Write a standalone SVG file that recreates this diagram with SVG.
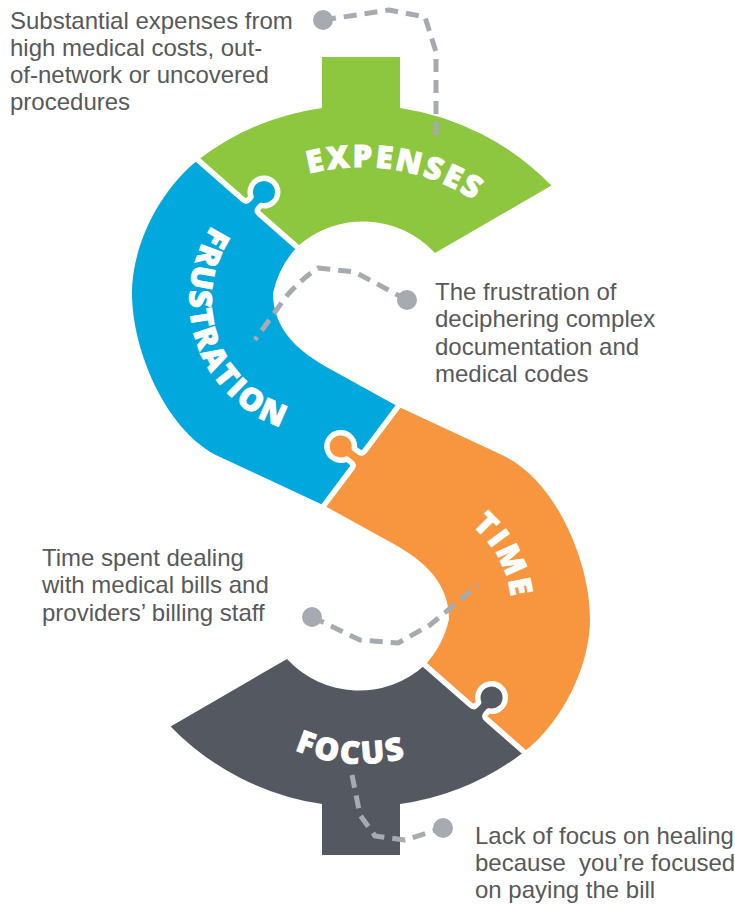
<svg xmlns="http://www.w3.org/2000/svg" width="735" height="906" viewBox="0 0 735 906">
<defs>
<style>
.body{font-family:"Liberation Sans",Arial,sans-serif;font-size:24px;fill:#58595b}
.lbl{font-family:"Open Sans","Lato",sans-serif;font-weight:800;font-size:31px;fill:#ffffff;stroke:#ffffff;stroke-width:0.9;letter-spacing:2.5px}
.sep{fill:none;stroke:#ffffff;stroke-width:5.5;stroke-linejoin:round;stroke-linecap:butt}
.dash{fill:none;stroke:#a7abb1;stroke-width:5;stroke-dasharray:13 8;stroke-linejoin:round}
.dot{fill:#a7abb1}
</style>
<path id="shapeTop" d="M198,160 A265,265 0 0 1 322,107.9 L322,57 L400,57 L400,107.9 A265,265 0 0 1 551.4,185.6 L435,253 A98,98 0 0 0 297,247 Z"/>
<path id="shapeSide" d="M198,160 C160,190 132,245 132,293 C132,350 166,432 220,457 L324,505.5 L398,406.5 L330,369 C299,352 273,330 273,293 A98,98 0 0 1 297,247 Z"/>
<path id="pE" d="M180,272.6 A208,208 0 0 1 565.5,337.1"/>
<path id="pF" d="M276.6,174.6 A134,134 0 0 0 365.4,427.4"/>
<path id="pT" d="M348.5,513.2 A111,111 0 0 1 453.5,708.8"/>
<path id="pC" d="M193.4,589.2 A168,168 0 0 0 528.6,610.8"/>
</defs>
<rect width="735" height="906" fill="#ffffff"/>

<g id="expenses">
<use href="#shapeTop" fill="#8dc63f"/>
</g>
<g id="frustration">
<use href="#shapeSide" fill="#00a8de"/>
</g>
<g id="time">
<use href="#shapeSide" fill="#f7963e" transform="rotate(180 361 456)"/>
</g>
<g id="focus">
<use href="#shapeTop" fill="#545861" transform="rotate(180 361 456)"/>
</g>

<g id="joints">
<g transform="translate(251.1,206.7) rotate(41.3)">
<path d="M-10.5,3 L-10.5,0 Q-6.5,0 -6.5,-4 L-6.5,-7.38 A13.75,13.75 0 1 1 6.5,-7.38 L6.5,-4 Q6.5,0 10.5,0 L10.5,3 Z" fill="#00a8de"/>
<path class="sep" d="M-74,0 L-10.5,0 Q-6.5,0 -6.5,-4 L-6.5,-7.38 A13.75,13.75 0 1 1 6.5,-7.38 L6.5,-4 Q6.5,0 10.5,0 L64,0"/>
</g>
<g transform="translate(358.3,459.6) rotate(-53.2)">
<path d="M-10.5,3 L-10.5,0 Q-6.5,0 -6.5,-4 L-6.5,-9.88 A13.75,13.75 0 1 1 6.5,-9.88 L6.5,-4 Q6.5,0 10.5,0 L10.5,3 Z" fill="#f7963e"/>
<path class="sep" d="M-60,0 L-10.5,0 Q-6.5,0 -6.5,-4 L-6.5,-9.88 A13.75,13.75 0 1 1 6.5,-9.88 L6.5,-4 Q6.5,0 10.5,0 L69,0"/>
</g>
<g transform="translate(478.7,712.2) rotate(41.3)">
<path d="M-10.5,3 L-10.5,0 Q-6.5,0 -6.5,-4 L-6.5,-7.38 A13.75,13.75 0 1 1 6.5,-7.38 L6.5,-4 Q6.5,0 10.5,0 L10.5,3 Z" fill="#545861"/>
<path class="sep" d="M-74,0 L-10.5,0 Q-6.5,0 -6.5,-4 L-6.5,-7.38 A13.75,13.75 0 1 1 6.5,-7.38 L6.5,-4 Q6.5,0 10.5,0 L63,0"/>
</g>
</g>

<g id="labels">
<text class="lbl" text-anchor="middle"><textPath href="#pE" startOffset="50%">EXPENSES</textPath></text>
<text class="lbl" text-anchor="middle"><textPath href="#pF" startOffset="50%">FRUSTRATION</textPath></text>
<text class="lbl" text-anchor="middle"><textPath href="#pT" startOffset="50%">TIME</textPath></text>
<text class="lbl" text-anchor="middle"><textPath href="#pC" startOffset="50%">FOCUS</textPath></text>
</g>

<g id="connectors">
<path class="dash" d="M323,20 L389,10 L425,17 L436,52 L436,137"/>
<circle class="dot" cx="323" cy="20" r="10"/>
<path class="dash" d="M407,300 L355,272 L318,268 Q300,280 285,298 L255,340"/>
<circle class="dot" cx="407" cy="300" r="10"/>
<path class="dash" d="M312,617 L360,640 L398,643 L430,625 L478,585"/>
<circle class="dot" cx="312" cy="617" r="10"/>
<path class="dash" d="M352,775 L360,815 L375,836 L405,840 L443,828"/>
<circle class="dot" cx="443" cy="828" r="10"/>
</g>

<g id="notes">
<text class="body" x="10" y="29">Substantial expenses from</text>
<text class="body" x="10" y="56">high medical costs, out-</text>
<text class="body" x="10" y="83">of-network or uncovered</text>
<text class="body" x="10" y="110">procedures</text>
<text class="body" x="435" y="300">The frustration of</text>
<text class="body" x="435" y="327">deciphering complex</text>
<text class="body" x="435" y="355">documentation and</text>
<text class="body" x="435" y="382">medical codes</text>
<text class="body" x="42" y="566">Time spent dealing</text>
<text class="body" x="42" y="593">with medical bills and</text>
<text class="body" x="42" y="621">providers’ billing staff</text>
<text class="body" x="475" y="844">Lack of focus on healing</text>
<text class="body" x="475" y="871">because&#160; you’re focused</text>
<text class="body" x="475" y="898">on paying the bill</text>
</g>
</svg>
